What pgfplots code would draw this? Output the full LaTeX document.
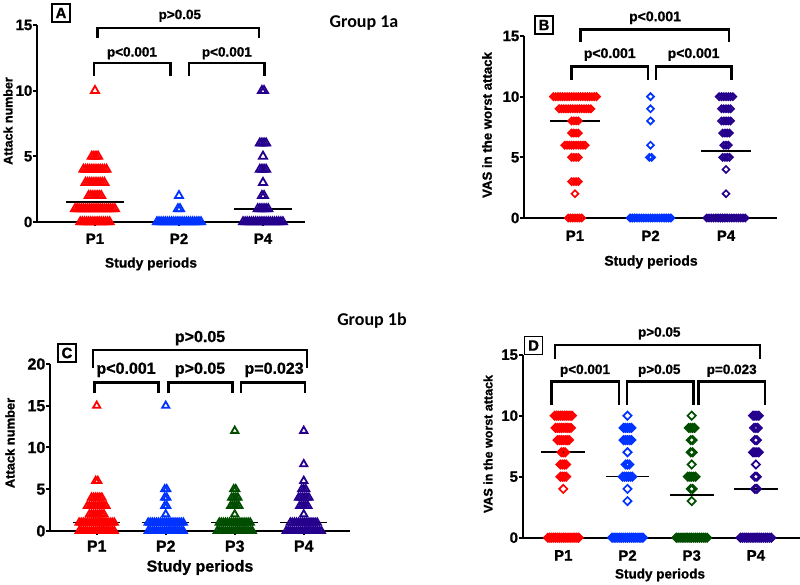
\documentclass[border=0pt]{standalone}
\usepackage{fontspec}
\setmainfont{Liberation Sans}[BoldFeatures={FakeBold=1}]
\newfontfamily\carlito{Carlito}
\usepackage{pgfplots}
\pgfplotsset{compat=1.18}
\definecolor{cRed}{RGB}{255,0,0}
\definecolor{cBlue}{RGB}{0,51,255}
\definecolor{cGreen}{RGB}{0,77,0}
\definecolor{cPurple}{RGB}{36,0,140}
\newcommand{\fs}[1]{\fontsize{#1}{#1}\selectfont\bfseries}
\pgfplotsset{
 prism/.style={
  scale only axis, anchor=south west,
  axis x line=bottom, axis y line=left,
  axis line style={-, line width=2.2pt, black},
  x axis line style={-}, y axis line style={-},
  tick align=outside, major tick length=4pt,
  tick style={line width=2pt, black},
  ymin=0, clip=false,
  /pgf/number format/assume math mode=true,
  xticklabel style={font=\fs{15}, yshift=-4pt},
  yticklabel style={font=\fs{15}, inner sep=0.5pt},
  minor tick num=0,
 },
 triA/.style={only marks, mark=triangle, mark size=4.7pt, mark options={solid, line width=1.8pt}},
 triC/.style={only marks, mark=triangle, mark size=4.2pt, mark options={solid, line width=1.8pt}},
 diaB/.style={only marks, mark=square, mark size=2.45pt, mark options={solid, line width=1.7pt, rotate=45}},
 diaD/.style={only marks, mark=square, mark size=2.9pt, mark options={solid, line width=1.7pt, rotate=45}},
 med/.style={black, line width=1.6pt, mark=none},
}
\tikzset{brk/.style={black, line width=2.4pt, line join=miter, line cap=butt}}
\begin{document}
\begin{tikzpicture}
\useasboundingbox (0pt,0pt) rectangle (800pt,585pt);
% ---------------- A ----------------
\begin{axis}[prism, at={(37pt,363pt)}, width=268pt, height=197pt,
  xmin=0.31, xmax=3.5, ymax=15, ytick={0,5,10,15},
  yticklabels={\textbf{0},\textbf{5},\textbf{10},\textbf{15}}, xtick={1,2,3}, xticklabels={P1,P2,P4}]
\addplot[med] coordinates {(1.66,0) (2.34,0)};
\addplot[triA, cRed] coordinates {(1,10)
(0.9625,5)(0.9875,5)(1.0125,5)(1.0375,5)
(0.8625,4)(0.8875,4)(0.9125,4)(0.9375,4)(0.9625,4)(0.9875,4)(1.0125,4)(1.0375,4)(1.0625,4)(1.0875,4)(1.1125,4)(1.1375,4)
(0.8875,3)(0.9125,3)(0.9375,3)(0.9625,3)(0.9875,3)(1.0125,3)(1.0375,3)(1.0625,3)(1.0875,3)(1.1125,3)
(0.925,2)(0.95,2)(0.975,2)(1,2)(1.025,2)(1.05,2)(1.075,2)
(0.7625,1)(0.7875,1)(0.8125,1)(0.8375,1)(0.8625,1)(0.8875,1)(0.9125,1)(0.9375,1)(0.9625,1)(0.9875,1)(1.0125,1)(1.0375,1)(1.0625,1)(1.0875,1)(1.1125,1)(1.1375,1)(1.1625,1)(1.1875,1)(1.2125,1)(1.2375,1)
(0.825,0)(0.85,0)(0.875,0)(0.9,0)(0.925,0)(0.95,0)(0.975,0)(1,0)(1.025,0)(1.05,0)(1.075,0)(1.1,0)(1.125,0)(1.15,0)(1.175,0)};
\addplot[triA, cBlue] coordinates {(2,2)
(1.9875,1)(2.0125,1)
(1.7375,0)(1.7625,0)(1.7875,0)(1.8125,0)(1.8375,0)(1.8625,0)(1.8875,0)(1.9125,0)(1.9375,0)(1.9625,0)(1.9875,0)(2.0125,0)(2.0375,0)(2.0625,0)(2.0875,0)(2.1125,0)(2.1375,0)(2.1625,0)(2.1875,0)(2.2125,0)(2.2375,0)(2.2625,0)};
\addplot[triA, cPurple] coordinates {(2.9875,10)(3.0125,10)
(2.9625,6)(2.9875,6)(3.0125,6)(3.0375,6)
(3,5)
(2.9625,4)(2.9875,4)(3.0125,4)(3.0375,4)
(3,3)
(2.9875,2)(3.0125,2)
(2.9375,1)(2.9625,1)(2.9875,1)(3.0125,1)(3.0375,1)(3.0625,1)
(2.7625,0)(2.7875,0)(2.8125,0)(2.8375,0)(2.8625,0)(2.8875,0)(2.9125,0)(2.9375,0)(2.9625,0)(2.9875,0)(3.0125,0)(3.0375,0)(3.0625,0)(3.0875,0)(3.1125,0)(3.1375,0)(3.1625,0)(3.1875,0)(3.2125,0)(3.2375,0)};
\addplot[med] coordinates {(0.66,1.5) (1.34,1.5)};
\addplot[med] coordinates {(2.66,1) (3.34,1)};
\draw[brk] (axis cs:1.03,14.0) -- (axis cs:1.03,14.75) -- (axis cs:2.95,14.75) -- (axis cs:2.95,14.0);
\draw[brk] (axis cs:0.99,11.12) -- (axis cs:0.99,12.09) -- (axis cs:1.90,12.09) -- (axis cs:1.90,11.12);
\draw[brk] (axis cs:2.12,11.12) -- (axis cs:2.12,12.09) -- (axis cs:3.02,12.09) -- (axis cs:3.02,11.12);
\node[font=\fs{13.5}] at (axis cs:2.01,15.7) {p>0.05};
\node[font=\fs{13.5}] at (axis cs:1.44,12.85) {p<0.001};
\node[font=\fs{13.5}] at (axis cs:2.57,12.85) {p<0.001};
\end{axis}
% ---------------- B ----------------
\begin{axis}[prism, at={(524pt,367pt)}, width=253pt, height=182pt,
  xmin=0.325, xmax=3.675, ymax=15, ytick={0,5,10,15},
  yticklabels={\textbf{0},\textbf{5},\textbf{10},\textbf{15}}, xtick={1,2,3}, xticklabels={P1,P2,P4},
  xticklabel style={yshift=-1pt}]
\addplot[med] coordinates {(1.67,0) (2.33,0)};
\addplot[diaB, cRed] coordinates {
(0.715,10)(0.745,10)(0.775,10)(0.805,10)(0.835,10)(0.865,10)(0.895,10)(0.925,10)(0.955,10)(0.985,10)(1.015,10)(1.045,10)(1.075,10)(1.105,10)(1.135,10)(1.165,10)(1.195,10)(1.225,10)(1.255,10)(1.285,10)
(0.79,9)(0.82,9)(0.85,9)(0.88,9)(0.91,9)(0.94,9)(0.97,9)(1,9)(1.03,9)(1.06,9)(1.09,9)(1.12,9)(1.15,9)(1.18,9)(1.21,9)
(0.955,8)(0.985,8)(1.015,8)(1.045,8)
(0.955,7)(0.985,7)(1.015,7)(1.045,7)
(0.865,6)(0.895,6)(0.925,6)(0.955,6)(0.985,6)(1.015,6)(1.045,6)(1.075,6)(1.105,6)(1.135,6)
(0.955,5)(0.985,5)(1.015,5)(1.045,5)
(0.955,3)(0.985,3)(1.015,3)(1.045,3)
(1,2)
(0.91,0)(0.94,0)(0.97,0)(1,0)(1.03,0)(1.06,0)(1.09,0)};
\addplot[diaB, cBlue] coordinates {(2,10)(2,9)(2,8)(2,6)(1.985,5)(2.015,5)
(1.73,0)(1.76,0)(1.79,0)(1.82,0)(1.85,0)(1.88,0)(1.91,0)(1.94,0)(1.97,0)(2,0)(2.03,0)(2.06,0)(2.09,0)(2.12,0)(2.15,0)(2.18,0)(2.21,0)(2.24,0)(2.27,0)};
\addplot[diaB, cPurple] coordinates {
(2.91,10)(2.94,10)(2.97,10)(3,10)(3.03,10)(3.06,10)(3.09,10)
(2.94,9)(2.97,9)(3,9)(3.03,9)(3.06,9)
(2.94,8)(2.97,8)(3,8)(3.03,8)(3.06,8)
(2.955,7)(2.985,7)(3.015,7)(3.045,7)
(2.97,6)(3,6)(3.03,6)
(2.955,5)(2.985,5)(3.015,5)(3.045,5)
(3,4)(3,2)
(2.745,0)(2.775,0)(2.805,0)(2.835,0)(2.865,0)(2.895,0)(2.925,0)(2.955,0)(2.985,0)(3.015,0)(3.045,0)(3.075,0)(3.105,0)(3.135,0)(3.165,0)(3.195,0)(3.225,0)(3.255,0)};
\addplot[med] coordinates {(0.67,8) (1.33,8)};
\addplot[med] coordinates {(2.67,5.5) (3.33,5.5)};
\draw[brk] (axis cs:1.075,14.49) -- (axis cs:1.075,15.54) -- (axis cs:3.04,15.54) -- (axis cs:3.04,14.49);
\draw[brk] (axis cs:0.956,11.4) -- (axis cs:0.956,12.5) -- (axis cs:1.963,12.5) -- (axis cs:1.963,11.4);
\draw[brk] (axis cs:2.07,11.4) -- (axis cs:2.07,12.5) -- (axis cs:3.075,12.5) -- (axis cs:3.075,11.4);
\node[font=\fs{14}] at (axis cs:2.06,16.5) {p<0.001};
\node[font=\fs{14}] at (axis cs:1.46,13.47) {p<0.001};
\node[font=\fs{14}] at (axis cs:2.57,13.47) {p<0.001};
\end{axis}
% ---------------- C ----------------
\begin{axis}[prism, at={(50pt,54pt)}, width=300pt, height=167pt,
  xmin=0.323, xmax=4.67, ymax=20, ytick={0,5,10,15,20},
  yticklabels={\textbf{0},\textbf{5},\textbf{10},\textbf{15},\textbf{20}}, xtick={1,2,3,4}, xticklabels={P1,P2,P3,P4},
  xticklabel style={font=\fs{16}, yshift=2pt}, yticklabel style={font=\fs{16}}]
\addplot[med] coordinates {(0.66,1) (1.34,1)};
\addplot[med] coordinates {(1.66,1) (2.34,1)};
\addplot[med] coordinates {(2.66,1) (3.34,1)};
\addplot[med] coordinates {(3.66,1) (4.34,1)};
\addplot[triC, cRed] coordinates {(1,15)
(0.985,6)(1.015,6)
(0.925,4)(0.955,4)(0.985,4)(1.015,4)(1.045,4)(1.075,4)
(0.865,3)(0.895,3)(0.925,3)(0.955,3)(0.985,3)(1.015,3)(1.045,3)(1.075,3)(1.105,3)(1.135,3)
(0.895,2)(0.925,2)(0.955,2)(0.985,2)(1.015,2)(1.045,2)(1.075,2)(1.105,2)
(0.745,1)(0.775,1)(0.805,1)(0.835,1)(0.865,1)(0.895,1)(0.925,1)(0.955,1)(0.985,1)(1.015,1)(1.045,1)(1.075,1)(1.105,1)(1.135,1)(1.165,1)(1.195,1)(1.225,1)(1.255,1)
(0.745,0)(0.775,0)(0.805,0)(0.835,0)(0.865,0)(0.895,0)(0.925,0)(0.955,0)(0.985,0)(1.015,0)(1.045,0)(1.075,0)(1.105,0)(1.135,0)(1.165,0)(1.195,0)(1.225,0)(1.255,0)};
\addplot[triC, cBlue] coordinates {(2,15)
(1.985,5)(2.015,5)(1.985,4)(2.015,4)(1.985,3)(2.015,3)(2,2)
(1.745,1)(1.775,1)(1.805,1)(1.835,1)(1.865,1)(1.895,1)(1.925,1)(1.955,1)(1.985,1)(2.015,1)(2.045,1)(2.075,1)(2.105,1)(2.135,1)(2.165,1)(2.195,1)(2.225,1)(2.255,1)
(1.745,0)(1.775,0)(1.805,0)(1.835,0)(1.865,0)(1.895,0)(1.925,0)(1.955,0)(1.985,0)(2.015,0)(2.045,0)(2.075,0)(2.105,0)(2.135,0)(2.165,0)(2.195,0)(2.225,0)(2.255,0)};
\addplot[triC, cGreen] coordinates {(3,12)
(2.985,5)(3.015,5)
(2.955,4)(2.985,4)(3.015,4)(3.045,4)
(2.94,3)(2.97,3)(3,3)(3.03,3)(3.06,3)
(3,2)
(2.775,1)(2.805,1)(2.835,1)(2.865,1)(2.895,1)(2.925,1)(2.955,1)(2.985,1)(3.015,1)(3.045,1)(3.075,1)(3.105,1)(3.135,1)(3.165,1)(3.195,1)(3.225,1)
(2.745,0)(2.775,0)(2.805,0)(2.835,0)(2.865,0)(2.895,0)(2.925,0)(2.955,0)(2.985,0)(3.015,0)(3.045,0)(3.075,0)(3.105,0)(3.135,0)(3.165,0)(3.195,0)(3.225,0)(3.255,0)};
\addplot[triC, cPurple] coordinates {(4,12)(4,8)(4,6)
(3.97,5)(4,5)(4.03,5)
(3.925,4)(3.955,4)(3.985,4)(4.015,4)(4.045,4)(4.075,4)
(3.94,3)(3.97,3)(4,3)(4.03,3)(4.06,3)
(4,2)
(3.805,1)(3.835,1)(3.865,1)(3.895,1)(3.925,1)(3.955,1)(3.985,1)(4.015,1)(4.045,1)(4.075,1)(4.105,1)(4.135,1)(4.165,1)(4.195,1)
(3.745,0)(3.775,0)(3.805,0)(3.835,0)(3.865,0)(3.895,0)(3.925,0)(3.955,0)(3.985,0)(4.015,0)(4.045,0)(4.075,0)(4.105,0)(4.135,0)(4.165,0)(4.195,0)(4.225,0)(4.255,0)};
\draw[brk] (axis cs:0.942,19.5) -- (axis cs:0.942,21.7) -- (axis cs:4.05,21.7) -- (axis cs:4.05,19.5);
\draw[brk] (axis cs:0.965,16.5) -- (axis cs:0.965,17.8) -- (axis cs:1.893,17.8) -- (axis cs:1.893,16.5);
\draw[brk] (axis cs:2.038,16.5) -- (axis cs:2.038,17.8) -- (axis cs:2.965,17.8) -- (axis cs:2.965,16.5);
\draw[brk] (axis cs:3.091,16.5) -- (axis cs:3.091,17.8) -- (axis cs:4.019,17.8) -- (axis cs:4.019,16.5);
\node[font=\fs{16}] at (axis cs:2.497,23.1) {p>0.05};
\node[font=\fs{16}] at (axis cs:1.425,19.3) {p<0.001};
\node[font=\fs{16}] at (axis cs:2.497,19.3) {p>0.05};
\node[font=\fs{16}] at (axis cs:3.57,19.3) {p=0.023};
\end{axis}
% ---------------- D ----------------
\begin{axis}[prism, at={(522.7pt,47.3pt)}, width=277.5pt, height=183pt,
  xmin=0.368, xmax=4.69, ymax=15, ytick={0,5,10,15},
  yticklabels={\textbf{0},\textbf{5},\textbf{10},\textbf{15}}, xtick={1,2,3,4}, xticklabels={P1,P2,P3,P4},
  xticklabel style={yshift=-1pt}]
\addplot[diaD, cRed] coordinates {
(0.865,10)(0.895,10)(0.925,10)(0.955,10)(0.985,10)(1.015,10)(1.045,10)(1.075,10)(1.105,10)(1.135,10)
(0.88,9)(0.91,9)(0.94,9)(0.97,9)(1,9)(1.03,9)(1.06,9)(1.09,9)(1.12,9)
(0.91,8)(0.94,8)(0.97,8)(1,8)(1.03,8)(1.06,8)(1.09,8)
(0.97,7)(1,7)(1.03,7)
(0.955,6)(0.985,6)(1.015,6)(1.045,6)
(0.955,5)(0.985,5)(1.015,5)(1.045,5)
(1,4)
(0.76,0)(0.79,0)(0.82,0)(0.85,0)(0.88,0)(0.91,0)(0.94,0)(0.97,0)(1,0)(1.03,0)(1.06,0)(1.09,0)(1.12,0)(1.15,0)(1.18,0)(1.21,0)(1.24,0)};
\addplot[diaD, cBlue] coordinates {(2,10)
(1.94,9)(1.97,9)(2,9)(2.03,9)(2.06,9)
(1.94,8)(1.97,8)(2,8)(2.03,8)(2.06,8)
(2,7)
(1.97,6)(2,6)(2.03,6)
(1.925,5)(1.955,5)(1.985,5)(2.015,5)(2.045,5)(2.075,5)
(2,4)(2,3)
(1.76,0)(1.79,0)(1.82,0)(1.85,0)(1.88,0)(1.91,0)(1.94,0)(1.97,0)(2,0)(2.03,0)(2.06,0)(2.09,0)(2.12,0)(2.15,0)(2.18,0)(2.21,0)(2.24,0)};
\addplot[diaD, cGreen] coordinates {(3,10)
(2.955,9)(2.985,9)(3.015,9)(3.045,9)
(2.985,8)(3.015,8)
(2.985,7)(3.015,7)
(3,6)
(2.94,5)(2.97,5)(3,5)(3.03,5)(3.06,5)
(2.985,4)(3.015,4)
(3,3)
(2.76,0)(2.79,0)(2.82,0)(2.85,0)(2.88,0)(2.91,0)(2.94,0)(2.97,0)(3,0)(3.03,0)(3.06,0)(3.09,0)(3.12,0)(3.15,0)(3.18,0)(3.21,0)(3.24,0)};
\addplot[diaD, cPurple] coordinates {
(3.955,10)(3.985,10)(4.015,10)(4.045,10)
(3.97,9)(4,9)(4.03,9)
(3.985,8)(4.015,8)
(3.955,7)(3.985,7)(4.015,7)(4.045,7)
(4,6)
(3.985,5)(4.015,5)
(3.985,4)(4.015,4)
(3.76,0)(3.79,0)(3.82,0)(3.85,0)(3.88,0)(3.91,0)(3.94,0)(3.97,0)(4,0)(4.03,0)(4.06,0)(4.09,0)(4.12,0)(4.15,0)(4.18,0)(4.21,0)(4.24,0)};
\addplot[med] coordinates {(0.66,7) (1.34,7)};
\addplot[med] coordinates {(1.66,5) (2.34,5)};
\addplot[med] coordinates {(2.66,3.5) (3.34,3.5)};
\addplot[med] coordinates {(3.66,4) (4.34,4)};
\draw[brk] (axis cs:0.871,14.65) -- (axis cs:0.871,15.8) -- (axis cs:4.064,15.8) -- (axis cs:4.064,14.65);
\draw[brk] (axis cs:0.819,10.88) -- (axis cs:0.819,12.79) -- (axis cs:1.868,12.79) -- (axis cs:1.868,10.88);
\draw[brk] (axis cs:1.988,10.88) -- (axis cs:1.988,12.79) -- (axis cs:3.025,12.79) -- (axis cs:3.025,10.88);
\draw[brk] (axis cs:3.103,10.88) -- (axis cs:3.103,12.79) -- (axis cs:4.142,12.79) -- (axis cs:4.142,10.88);
\node[font=\fs{13.5}] at (axis cs:2.495,16.75) {p>0.05};
\node[font=\fs{13.5}] at (axis cs:1.338,13.69) {p<0.001};
\node[font=\fs{13.5}] at (axis cs:2.495,13.69) {p>0.05};
\node[font=\fs{13.5}] at (axis cs:3.623,13.69) {p=0.023};
\end{axis}
% ---------------- labels ----------------
\node[font=\carlito\fontsize{18}{18}\selectfont\bfseries] at (364pt,562pt) {Group 1a};
\node[font=\carlito\fontsize{18}{18}\selectfont\bfseries] at (372pt,264pt) {Group 1b};
\foreach \p/\x/\y in {A/61/572, B/544/560, C/67/232, D/533.5/239.5}
  \node[draw, line width=1.5pt, minimum width=18pt, minimum height=18pt, inner sep=0pt, font=\fs{15}] at (\x pt,\y pt) {\p};
\node[rotate=90, font=\fs{12.5}] at (8pt,464pt) {Attack number};
\node[font=\fs{13.8}] at (151pt,321pt) {Study periods};
\node[rotate=90, font=\fs{13.2}] at (487pt,460pt) {VAS in the worst attack};
\node[font=\fs{14}] at (651pt,323pt) {Study periods};
\node[rotate=90, font=\fs{12.9}] at (10pt,142pt) {Attack number};
\node[font=\fs{16}] at (200pt,17.5pt) {Study periods};
\node[rotate=90, font=\fs{12.5}] at (488pt,141pt) {VAS in the worst attack};
\node[font=\fs{13.5}] at (660pt,10pt) {Study periods};
\end{tikzpicture}
\end{document}
